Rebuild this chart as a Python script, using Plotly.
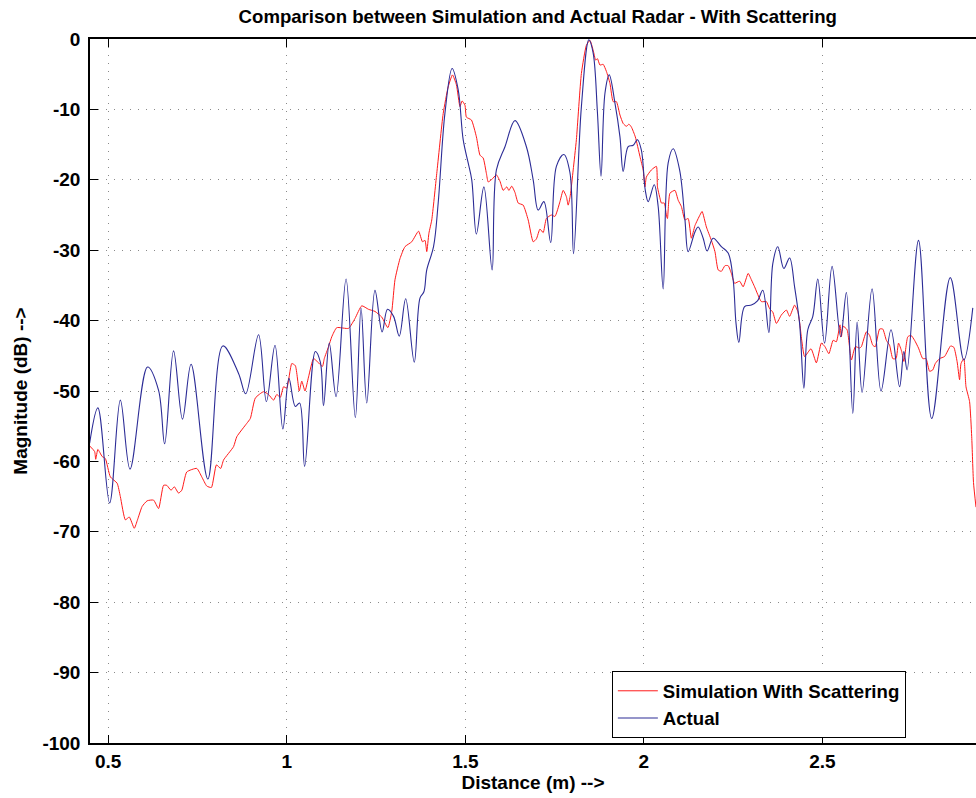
import plotly.graph_objects as go

# Actual radar (blue)
actual_x = [0.448, 0.471, 0.504, 0.534, 0.561, 0.610, 0.641, 0.658, 0.683, 0.708, 0.732, 0.779,
            0.821, 0.865, 0.885, 0.921, 0.943, 0.967, 0.989, 1.006, 1.024, 1.036, 1.050, 1.080,
            1.094, 1.103, 1.119, 1.138, 1.166, 1.192, 1.208, 1.224, 1.247, 1.267, 1.282, 1.299,
            1.315, 1.333, 1.357, 1.373, 1.384, 1.392, 1.411, 1.424, 1.443, 1.463, 1.480, 1.494,
            1.508, 1.518, 1.531, 1.552, 1.575, 1.587, 1.611, 1.639, 1.671, 1.690, 1.704, 1.720,
            1.739, 1.755, 1.776, 1.793, 1.803, 1.825, 1.846, 1.858, 1.870, 1.880, 1.891, 1.903,
            1.919, 1.933, 1.942, 1.956, 1.970, 1.982, 1.993, 2.004, 2.012, 2.029, 2.040, 2.054,
            2.068, 2.082, 2.100, 2.115, 2.124, 2.143, 2.152, 2.166, 2.177, 2.194, 2.217, 2.236,
            2.250, 2.258, 2.266, 2.282, 2.301, 2.318, 2.333, 2.350, 2.361, 2.375, 2.392, 2.408,
            2.422, 2.436, 2.448, 2.459, 2.473, 2.487, 2.506, 2.527, 2.551, 2.567, 2.585, 2.597,
            2.611, 2.639, 2.664, 2.692, 2.716, 2.728, 2.737, 2.769, 2.806, 2.858, 2.896, 2.921]
actual_y = [-57.4, -52.4, -65.9, -51.3, -61.1, -46.6, -49.9, -57.5, -44.3, -54.0, -46.2, -62.5,
            -43.6, -47.5, -50.4, -42.0, -51.5, -43.5, -55.4, -48.2, -52.2, -51.7, -60.7, -44.4,
            -45.9, -52.1, -43.2, -50.8, -34.1, -53.8, -38.2, -51.7, -35.7, -41.6, -38.4, -39.4,
            -42.2, -36.9, -45.9, -36.8, -35.9, -32.8, -29.5, -23.3, -10.5, -4.2, -7.2, -14.3,
            -17.6, -20.0, -27.7, -21.0, -32.8, -18.6, -15.3, -11.6, -15.3, -20.0, -24.3, -23.1,
            -28.9, -18.1, -16.4, -19.0, -30.5, -9.6, -0.1, -2.0, -10.5, -19.5, -7.7, -5.1,
            -9.1, -13.9, -18.8, -15.3, -15.1, -14.3, -15.8, -21.5, -23.1, -20.7, -23.8, -35.5,
            -17.6, -15.6, -18.6, -25.7, -30.2, -27.4, -26.7, -28.3, -30.1, -28.3, -29.5, -30.4,
            -34.2, -40.4, -43.1, -38.0, -37.8, -37.2, -35.7, -41.7, -31.9, -29.5, -32.6, -31.1,
            -35.2, -40.4, -49.6, -41.3, -39.4, -34.1, -43.2, -32.3, -42.3, -36.0, -53.2, -40.2,
            -50.2, -35.5, -50.0, -41.3, -49.4, -44.4, -47.0, -28.6, -53.9, -33.9, -45.6, -38.2]

# Simulation with scattering (red)
sim_x = [0.448, 0.462, 0.465, 0.471, 0.483, 0.492, 0.506, 0.525, 0.534, 0.548, 0.559, 0.573,
         0.582, 0.595, 0.609, 0.627, 0.641, 0.655, 0.664, 0.676, 0.685, 0.697, 0.706, 0.720,
         0.748, 0.762, 0.776, 0.789, 0.803, 0.815, 0.823, 0.851, 0.860, 0.888, 0.898, 0.912,
         0.935, 0.949, 0.963, 0.972, 0.982, 0.991, 1.000, 1.014, 1.024, 1.035, 1.042, 1.051,
         1.061, 1.075, 1.087, 1.100, 1.105, 1.117, 1.126, 1.140, 1.173, 1.191, 1.210, 1.229,
         1.247, 1.266, 1.283, 1.294, 1.303, 1.317, 1.331, 1.350, 1.369, 1.380, 1.387, 1.392,
         1.398, 1.406, 1.420, 1.438, 1.452, 1.464, 1.475, 1.485, 1.491, 1.499, 1.503, 1.517,
         1.531, 1.541, 1.550, 1.559, 1.564, 1.573, 1.587, 1.597, 1.606, 1.616, 1.622, 1.630,
         1.639, 1.648, 1.662, 1.676, 1.690, 1.699, 1.709, 1.718, 1.727, 1.741, 1.751, 1.765,
         1.774, 1.783, 1.788, 1.794, 1.802, 1.811, 1.825, 1.839, 1.849, 1.858, 1.865, 1.870,
         1.877, 1.886, 1.895, 1.905, 1.914, 1.923, 1.933, 1.942, 1.951, 1.958, 1.965, 1.976,
         1.989, 1.998, 2.003, 2.007, 2.021, 2.035, 2.038, 2.045, 2.049, 2.057, 2.063, 2.066,
         2.073, 2.087, 2.096, 2.105, 2.115, 2.124, 2.133, 2.143, 2.157, 2.163, 2.175, 2.189,
         2.199, 2.208, 2.217, 2.227, 2.236, 2.245, 2.254, 2.268, 2.278, 2.292, 2.301, 2.310,
         2.329, 2.343, 2.352, 2.361, 2.371, 2.385, 2.399, 2.408, 2.422, 2.431, 2.436, 2.442,
         2.450, 2.468, 2.483, 2.497, 2.507, 2.518, 2.530, 2.539, 2.549, 2.553, 2.558, 2.569,
         2.581, 2.592, 2.604, 2.609, 2.623, 2.632, 2.641, 2.648, 2.660, 2.669, 2.679, 2.688,
         2.697, 2.706, 2.713, 2.722, 2.728, 2.739, 2.748, 2.758, 2.769, 2.781, 2.790, 2.800,
         2.809, 2.816, 2.828, 2.842, 2.859, 2.868, 2.877, 2.884, 2.888, 2.896, 2.902, 2.912,
         2.918, 2.923, 2.930]
sim_y = [-57.8, -58.6, -59.7, -58.3, -59.3, -59.6, -62.2, -63.1, -65.0, -68.3, -67.9, -69.5,
         -68.3, -66.4, -65.6, -65.5, -66.7, -63.4, -63.4, -64.1, -63.6, -64.5, -64.1, -61.5,
         -61.0, -62.2, -63.5, -63.7, -60.5, -61.0, -59.8, -57.9, -56.5, -54.6, -53.9, -51.0,
         -50.1, -50.5, -51.3, -50.5, -50.9, -49.4, -49.6, -46.1, -46.4, -50.0, -48.6, -50.0,
         -48.0, -45.4, -45.9, -46.5, -45.4, -43.7, -42.3, -41.0, -41.1, -39.7, -37.9, -38.4,
         -38.7, -39.5, -41.0, -38.7, -34.2, -31.2, -29.5, -28.8, -27.3, -28.8, -28.6, -30.2,
         -27.6, -25.7, -19.1, -10.6, -6.8, -5.1, -6.5, -9.6, -8.8, -9.4, -11.1, -11.5,
         -13.9, -16.5, -16.9, -19.1, -20.3, -20.0, -19.3, -20.2, -21.5, -21.0, -21.5, -20.9,
         -21.8, -23.3, -23.6, -25.7, -28.8, -28.4, -27.0, -27.5, -25.5, -25.0, -25.2, -23.1,
         -21.5, -22.4, -23.6, -22.2, -18.6, -14.3, -4.9, -0.9, -0.2, -1.6, -3.0, -2.8,
         -3.7, -3.6, -4.6, -6.3, -8.9, -8.9, -10.8, -12.0, -12.4, -12.1, -12.5, -13.9,
         -16.7, -18.6, -21.0, -19.6, -18.6, -18.1, -21.0, -22.6, -23.3, -23.3, -25.0, -25.5,
         -21.9, -21.5, -22.9, -23.8, -25.7, -25.5, -28.3, -26.5, -25.0, -24.5, -26.7, -28.6,
         -30.2, -32.8, -33.0, -32.2, -32.2, -33.3, -34.7, -34.4, -35.2, -33.3, -34.2, -35.2,
         -37.3, -37.3, -38.3, -38.8, -40.4, -39.2, -38.5, -39.4, -37.8, -38.7, -40.2, -42.8,
         -45.1, -44.0, -46.0, -43.2, -43.7, -44.7, -42.8, -43.0, -40.6, -42.3, -40.8, -41.3,
         -45.6, -43.7, -43.9, -43.7, -41.6, -42.1, -43.5, -43.7, -41.2, -41.2, -42.8, -43.5,
         -45.4, -45.4, -43.2, -44.4, -45.8, -42.3, -42.1, -42.8, -43.9, -45.4, -45.4, -47.2,
         -47.0, -46.1, -45.4, -45.1, -43.6, -43.8, -45.8, -48.4, -46.1, -45.4, -49.4, -51.5,
         -56.5, -63.0, -66.5]

x_ticks = [0.5, 1, 1.5, 2, 2.5]
x_tick_labels = ["0.5", "1", "1.5", "2", "2.5"]
y_ticks = [0, -10, -20, -30, -40, -50, -60, -70, -80, -90, -100]
y_tick_labels = ["0", "-10", "-20", "-30", "-40", "-50", "-60", "-70", "-80", "-90", "-100"]

FONT = "Liberation Sans, Arial, Helvetica, sans-serif"

fig = go.Figure()
fig.add_trace(go.Scatter(x=sim_x, y=sim_y, mode="lines", name="Simulation With Scattering",
                         line=dict(color="#ff1a1a", width=1, shape="spline", smoothing=0.5)))
fig.add_trace(go.Scatter(x=actual_x, y=actual_y, mode="lines", name="Actual",
                         line=dict(color="#2c2c96", width=1.1, shape="spline", smoothing=1.0)))

axis_common = dict(
    showline=True, linecolor="black", linewidth=1.5,
    ticks="inside", ticklen=8, tickcolor="black", tickwidth=1,
    showgrid=True, gridcolor="#8a8a8a", gridwidth=1, griddash="1px,7px",
    zeroline=False, automargin=False,
    tickfont=dict(family=FONT, size=19, color="black", weight="bold"),
)

fig.update_layout(
    width=976, height=798,
    margin=dict(l=90, r=0, t=39, b=55),
    paper_bgcolor="white", plot_bgcolor="white",
    title=dict(text="Comparison between Simulation and Actual Radar - With Scattering",
               x=0.551, xanchor="center", y=0.979, yanchor="middle",
               font=dict(family=FONT, size=18.6, color="black", weight="bold")),
    xaxis=dict(range=[0.449, 2.930], tickvals=x_ticks, ticktext=x_tick_labels,
               mirror="ticks",
               title=dict(text="Distance (m) -->", standoff=4,
                          font=dict(family=FONT, size=19, color="black", weight="bold")),
               **axis_common),
    yaxis=dict(range=[-100, 0], tickvals=y_ticks, ticktext=y_tick_labels,
               ticklabelstandoff=4,
               title=dict(text="Magnitude (dB) -->", standoff=10,
                          font=dict(family=FONT, size=19, color="black", weight="bold")),
               **axis_common),
    legend=dict(x=0.589, y=0.102, xanchor="left", yanchor="top",
                bgcolor="white", bordercolor="black", borderwidth=1,
                font=dict(family=FONT, size=18.6, color="black", weight="bold"),
                tracegroupgap=0, itemwidth=40),
    showlegend=True,
)

# Remove the default page margin so the 976x798 figure fills the window exactly.
fig.write_html("out.html", config={"displayModeBar": False},
               post_script="document.body.style.margin='0';document.body.style.overflow='hidden';")
